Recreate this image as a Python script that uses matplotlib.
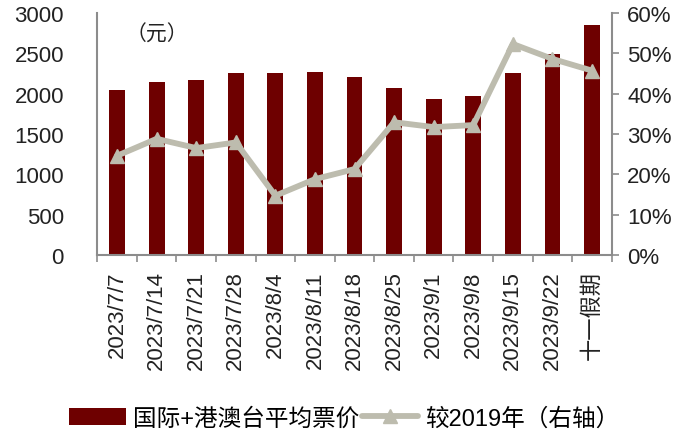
import matplotlib
matplotlib.use("Agg")
import matplotlib.pyplot as plt
import numpy as np
from matplotlib.ticker import FixedLocator, FuncFormatter

plt.rcParams['font.family'] = ['Liberation Sans', 'Noto Sans CJK SC', 'DejaVu Sans']

categories = ["2023/7/7", "2023/7/14", "2023/7/21", "2023/7/28", "2023/8/4", "2023/8/11",
              "2023/8/18", "2023/8/25", "2023/9/1", "2023/9/8", "2023/9/15", "2023/9/22", "十一假期"]
avg_price = [2045, 2145, 2165, 2252, 2250, 2268, 2207, 2074, 1934, 1967, 2252, 2492, 2851]
vs_2019 = [24.6, 28.8, 26.5, 27.9, 14.7, 18.8, 21.3, 32.9, 31.7, 32.2, 52.3, 48.6, 45.7]
left_ticks = [0, 500, 1000, 1500, 2000, 2500, 3000]
right_ticks = [0, 10, 20, 30, 40, 50, 60]

bar_color = "#6E0000"
line_color = "#BDBCAE"
spine_color = "#8C8C8C"
text_color = "#222222"
fs = 16

fig = plt.figure(figsize=(7, 4.35), dpi=100)
ax = fig.add_axes([0.139, 0.4115, 0.735, 0.5565])
x = np.arange(len(categories))
bars = ax.bar(x, avg_price, width=0.4, color=bar_color, label="国际+港澳台平均票价", zorder=2)
ax.set_xlim(-0.5, len(categories) - 0.5)
ax.set_ylim(0, 3000)
ax.set_yticks(left_ticks)
ax.tick_params(axis='y', length=0, pad=24, labelsize=fs, colors=text_color)
ax.set_xticks(x)
ax.set_xticklabels(categories, rotation=90, fontsize=fs, color=text_color)
ax.tick_params(axis='x', which='major', length=0, pad=11)
ax.xaxis.set_minor_locator(FixedLocator(np.arange(-0.5, len(categories), 1.0)))
ax.tick_params(axis='x', which='minor', length=5, width=1.2, color=spine_color, direction='out')
for s in ['top', 'right']:
    ax.spines[s].set_visible(False)
for s in ['left', 'bottom']:
    ax.spines[s].set_color(spine_color)
    ax.spines[s].set_linewidth(1.5)

ax2 = ax.twinx()
line, = ax2.plot(x, vs_2019, color=line_color, lw=4.2, marker='^', markersize=10,
                 solid_joinstyle='round', solid_capstyle='round', label="较2019年（右轴）", zorder=3)
ax2.set_ylim(0, 60)
ax2.set_yticks(right_ticks)
ax2.yaxis.set_major_formatter(FuncFormatter(lambda v, p: f"{int(v)}%"))
ax2.tick_params(axis='y', length=5, width=1.2, color=spine_color, pad=6, labelsize=fs, colors=text_color)
ax2.tick_params(axis='y', color=spine_color)
for s in ['top', 'left', 'bottom']:
    ax2.spines[s].set_visible(False)
ax2.spines['right'].set_color(spine_color)
ax2.spines['right'].set_linewidth(1.5)

ax.text(0.055, 0.955, "（元）", transform=ax.transAxes, fontsize=15, va='top', ha='left', color=text_color)

fig.legend([bars, line], ["国际+港澳台平均票价", "较2019年（右轴）"], loc='center',
           bbox_to_anchor=(0.492, 0.036), ncol=2, frameon=False, fontsize=17,
           handlelength=2.4, handletextpad=0.3, columnspacing=0.1)

fig.savefig("out.png", dpi=100)
